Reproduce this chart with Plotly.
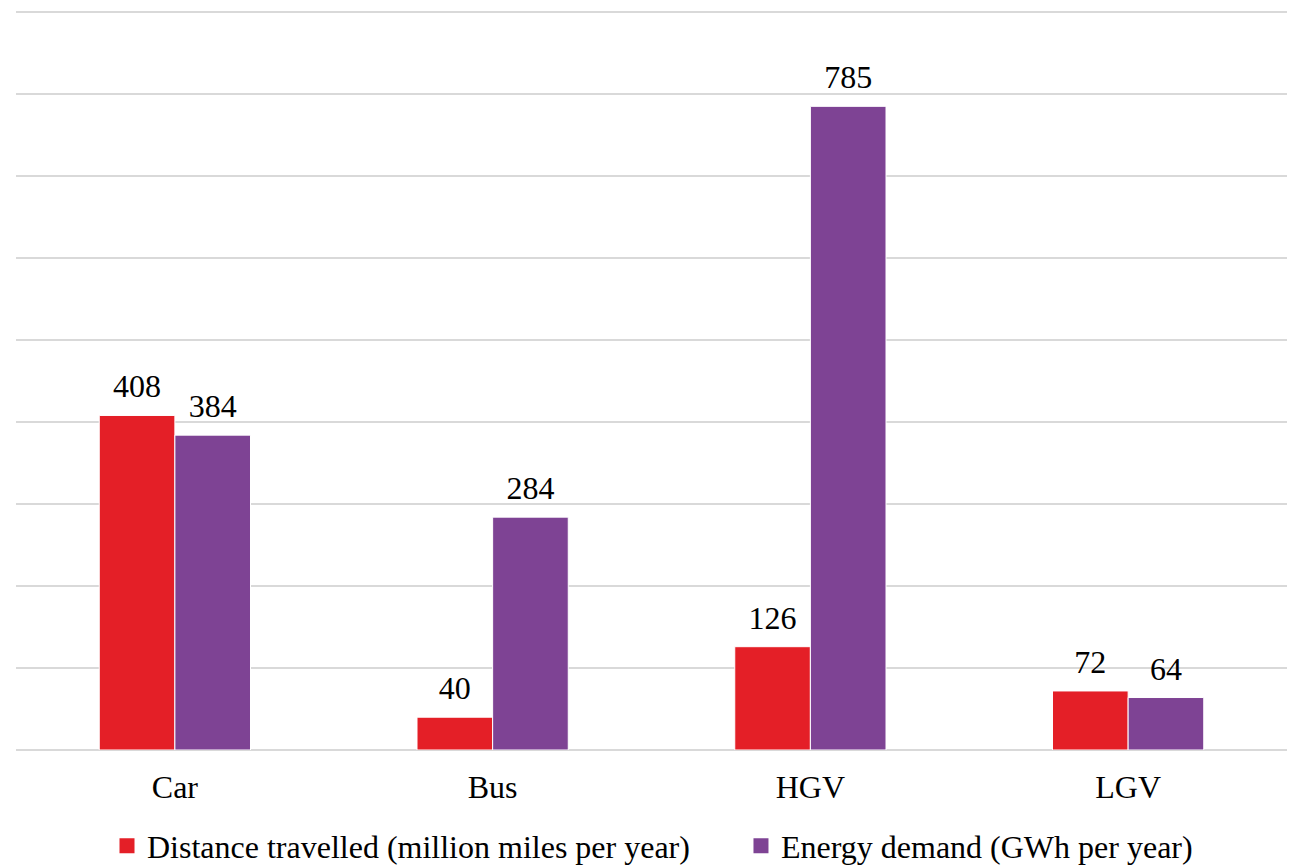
import plotly.graph_objects as go

categories = ["Car", "Bus", "HGV", "LGV"]
distance = [408, 40, 126, 72]
energy = [384, 284, 785, 64]
series_names = ["Distance travelled (million miles per year)", "Energy demand (GWh per year)"]
colors = ["#E41F27", "#7E4394"]

FONT = "Liberation Serif"
FS = 32

fig = go.Figure()
for i, (name, vals, col) in enumerate(zip(series_names, [distance, energy], colors)):
    grp = "g%d" % i
    fig.add_trace(go.Bar(
        x=categories, y=vals, name=name, showlegend=False,
        marker=dict(color=col, line=dict(color="white", width=1)),
        offsetgroup=grp, alignmentgroup="a",
        hoverinfo="x+y+name",
    ))
    # value labels, aligned with the grouped bars
    fig.add_trace(go.Scatter(
        x=categories, y=vals, mode="markers+text", showlegend=False,
        text=[str(v) for v in vals], textposition="top center",
        textfont=dict(family=FONT, size=FS, color="black"),
        marker=dict(size=14.4, opacity=0, color=col),
        offsetgroup=grp, alignmentgroup="a", cliponaxis=False, hoverinfo="skip",
    ))
    # legend entry
    fig.add_trace(go.Scatter(
        x=[None], y=[None], mode="markers", name=name,
        marker=dict(symbol="square", size=15, color=col),
        legend="legend" if i == 0 else "legend2",
    ))

legend_common = dict(orientation="h", yanchor="middle", y=-0.1297, xanchor="left",
                     font=dict(family=FONT, size=FS, color="black"),
                     itemwidth=30, bgcolor="rgba(0,0,0,0)")

fig.update_layout(
    width=1289, height=865,
    margin=dict(l=16, r=2, t=10, b=115, autoexpand=False),
    paper_bgcolor="white", plot_bgcolor="white",
    barmode="group", bargap=0.524, bargroupgap=0,
    scattermode="group", scattergap=0.524,
    font=dict(family=FONT, size=FS, color="black"),
    showlegend=True,
    legend=dict(x=0.0716, **legend_common),
    legend2=dict(x=0.5704, **legend_common),
    xaxis=dict(showgrid=False, showline=False, ticks="", ticklabelstandoff=15,
               tickfont=dict(family=FONT, size=FS, color="black")),
    yaxis=dict(range=[0, 902.5], tickvals=list(range(0, 901, 100)), showticklabels=False,
               showgrid=True, gridcolor="#D9D9D9", gridwidth=2, zeroline=True,
               zerolinecolor="#D9D9D9", zerolinewidth=2, showline=False),
)

fig.write_html("out.html", config={"displayModeBar": False},
               post_script="document.body.style.margin='0';document.body.style.overflow='hidden';")
